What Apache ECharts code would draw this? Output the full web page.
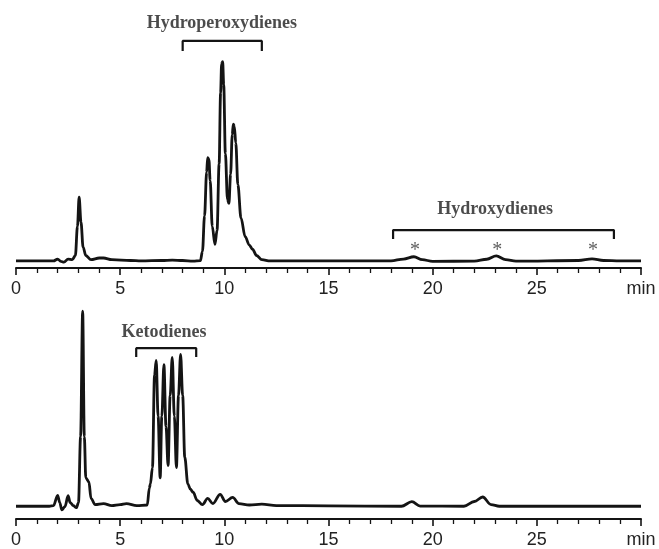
<!DOCTYPE html>
<html><head><meta charset="utf-8">
<script src="https://cdn.jsdelivr.net/npm/echarts@6/dist/echarts.min.js"></script>
<style>html,body{margin:0;padding:0;background:#fff}#c{width:659px;height:549px}</style>
</head><body><div id="c"></div>
<script>
// retention time (min) and detector response (arbitrary units)
var topTime = [0,1.0,1.8,2.0,2.15,2.3,2.5,2.7,2.85,2.95,3.03,3.12,3.22,3.35,3.6,4.0,4.2,4.6,5.5,6.0,7.0,7.5,8.0,8.5,8.85,8.95,9.05,9.15,9.2,9.26,9.32,9.42,9.55,9.65,9.75,9.82,9.87,9.92,9.97,10.05,10.15,10.22,10.3,10.38,10.43,10.48,10.55,10.65,10.8,11.0,11.2,11.35,11.55,11.8,12.2,18.0,18.6,19.1,19.5,20.0,22.0,22.6,23.05,23.5,24.0,27.0,27.65,28.2,29.0,30.0];
var topResp = [3.4,3.4,3.4,4.3,3.2,2.8,4.3,4.0,6,20,34,22,10,6,4,4.8,4.8,4,3.6,3.4,3.6,3.8,3.6,3.3,3.5,8,25,46,53,52,42,20,11.3,18,50,84,98,99,88,55,33,31,45,64,69,68,60,40,24,15,11,9,6,4,3.4,3.4,4.3,5.4,4.0,3.2,3.3,4.2,5.8,4.0,3.3,3.6,4.4,3.6,3.4,3.4];
var botTime = [0,1.6,1.8,2.0,2.1,2.2,2.35,2.5,2.6,2.75,2.9,3.0,3.1,3.2,3.28,3.35,3.5,3.6,3.8,4.2,4.6,5.0,5.3,5.8,6.3,6.4,6.45,6.55,6.65,6.73,6.82,6.92,7.0,7.1,7.2,7.3,7.4,7.5,7.6,7.7,7.8,7.9,8.0,8.1,8.25,8.37,8.5,8.7,8.95,9.2,9.45,9.8,10.05,10.4,10.7,11.2,11.8,12.5,15.0,18.5,19.0,19.4,21.5,22.0,22.4,22.8,23.2,30.0];
var botResp = [6.2,6.2,6.5,11.5,8,4.5,6,11.3,8,6.5,5.5,8,40,101,40,20,18,10,7,7.5,6.5,7,7.5,6.5,6.8,15,17,25,70,77,50,20,50,75,45,26,60,78.5,50,25,60,80,60,30,17,14.5,13,9,7,10,7.5,12,8.5,10.5,7.5,6.8,7.2,6.5,6.4,6.2,8.4,6.3,6.2,8.5,10.7,7,6.2,6.2];
var tickLabels = {0:'0',5:'5',10:'10',15:'15',20:'20',25:'25',30:'min'};
var groupNames = ['Hydroperoxydienes','Hydroxydienes','Ketodienes'];
var asteriskTimes = [19.15,23.1,27.7];

function pairs(t,v){return t.map(function(x,i){return [x,v[i]];});}
var ink = '#141414';
function xAxisCfg(idx){
  return {type:'value',gridIndex:idx,min:0,max:30,interval:5,
    axisLine:{show:true,onZero:false,lineStyle:{color:ink,width:2}},
    axisTick:{show:true,length:7,lineStyle:{color:ink,width:1.6}},
    minorTick:{show:true,splitNumber:5,length:5,lineStyle:{color:ink,width:1.3}},
    splitLine:{show:false},minorSplitLine:{show:false},
    axisLabel:{color:'#222',fontFamily:'Liberation Sans',fontSize:18,margin:12,showMaxLabel:true,
      formatter:function(v){return tickLabels[v]!==undefined?tickLabels[v]:'';}}};
}
function yAxisCfg(idx){return {type:'value',gridIndex:idx,min:0,max:120,show:false};}
var serifLbl = {show:true,position:'inside',fontFamily:'Liberation Serif',fontWeight:'bold',fontSize:18,color:'#1e1e1e'};
function bracket(x0,x1,yTop,yLeg,xi){
  return {type:'line',xAxisIndex:xi,yAxisIndex:xi,data:[[x0,yLeg],[x0,yTop],[x1,yTop],[x1,yLeg]],
    showSymbol:false,symbol:'none',lineStyle:{color:ink,width:2.2},z:3,silent:true};
}
function label(text,x,y,xi){
  var l = Object.assign({},serifLbl,{formatter:text});
  return {type:'scatter',xAxisIndex:xi,yAxisIndex:xi,symbolSize:0,data:[[x,y]],label:l,silent:true};
}
var series = [
  {type:'line',xAxisIndex:0,yAxisIndex:0,data:pairs(topTime,topResp),smooth:0.35,smoothMonotone:'x',showSymbol:false,symbol:'none',lineStyle:{color:ink,width:2.8}},
  {type:'line',xAxisIndex:1,yAxisIndex:1,data:pairs(botTime,botResp),smooth:0.35,smoothMonotone:'x',showSymbol:false,symbol:'none',lineStyle:{color:ink,width:2.8}},
  bracket(8.0,11.8,109,104.2,0),
  bracket(18.1,28.7,18.2,13.9,0),
  bracket(5.77,8.65,83,78.7,1),
  label(groupNames[0],9.88,117.4,0),
  label(groupNames[1],23.0,28.1,0),
  label(groupNames[2],7.1,90.5,1),
  {type:'scatter',xAxisIndex:0,yAxisIndex:0,symbolSize:0,silent:true,
    data:asteriskTimes.map(function(t){return [t,8.2];}),
    label:{show:true,position:'inside',formatter:'*',fontFamily:'Liberation Serif',fontSize:20,color:'#333'}}
];
var chart = echarts.init(document.getElementById('c'));
chart.setOption({
  animation:false,backgroundColor:'#fff',
  grid:[{left:16,right:18,top:18,bottom:281},{left:16,right:18,top:272,bottom:27}],
  xAxis:[xAxisCfg(0),xAxisCfg(1)],
  yAxis:[yAxisCfg(0),yAxisCfg(1)],
  series:series
});
</script></body></html>
